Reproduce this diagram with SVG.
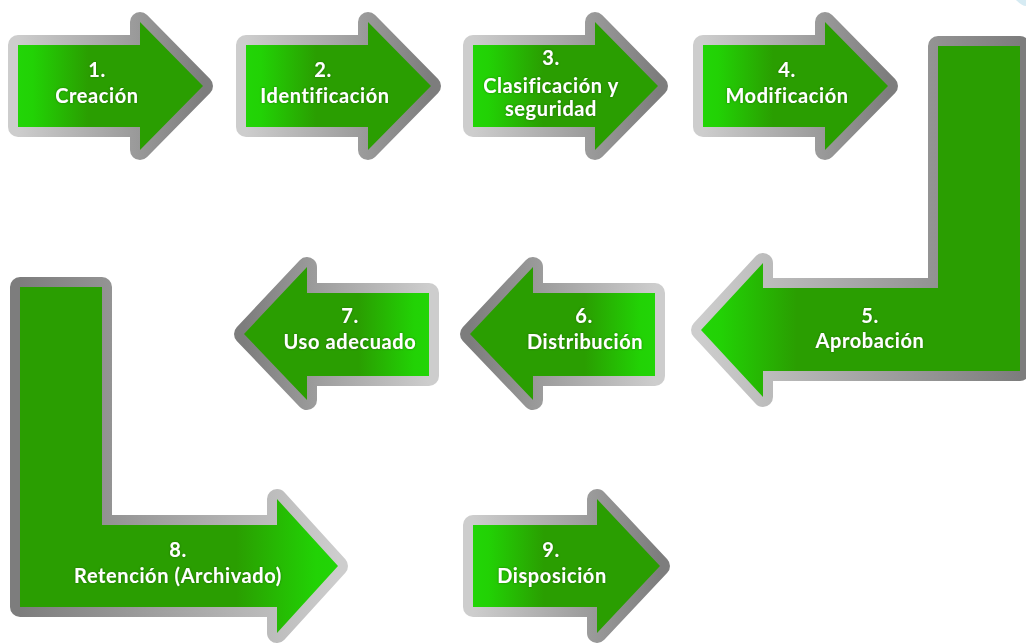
<svg xmlns="http://www.w3.org/2000/svg" width="1026" height="643" viewBox="0 0 1026 643">
  <defs>
    <linearGradient id="greenA" x1="0" y1="0" x2="1" y2="0">
      <stop offset="0" stop-color="#22d507"/>
      <stop offset="0.08" stop-color="#22d205"/>
      <stop offset="0.38" stop-color="#2a9e01"/>
      <stop offset="1" stop-color="#2a9e01"/>
    </linearGradient>
    <linearGradient id="greenB" x1="0" y1="0" x2="1" y2="0">
      <stop offset="0" stop-color="#2a9e01"/>
      <stop offset="0.62" stop-color="#2a9e01"/>
      <stop offset="0.92" stop-color="#22d205"/>
      <stop offset="1" stop-color="#22d507"/>
    </linearGradient>
    <linearGradient id="green5" x1="0" y1="0" x2="1" y2="0">
      <stop offset="0" stop-color="#22d507"/>
      <stop offset="0.06" stop-color="#22d205"/>
      <stop offset="0.3" stop-color="#2a9e01"/>
      <stop offset="1" stop-color="#2a9e01"/>
    </linearGradient>
    <linearGradient id="green8" x1="0" y1="0" x2="1" y2="0">
      <stop offset="0" stop-color="#2a9e01"/>
      <stop offset="0.68" stop-color="#2a9e01"/>
      <stop offset="0.93" stop-color="#22d205"/>
      <stop offset="1" stop-color="#22d507"/>
    </linearGradient>
    <linearGradient id="grayA" x1="0" y1="0" x2="1" y2="0">
      <stop offset="0" stop-color="#cdcdcd"/>
      <stop offset="1" stop-color="#7d7d7d"/>
    </linearGradient>
    <linearGradient id="grayB" x1="0" y1="0" x2="1" y2="0">
      <stop offset="0" stop-color="#7d7d7d"/>
      <stop offset="1" stop-color="#cdcdcd"/>
    </linearGradient>
    <filter id="tshadow" x="-10%" y="-30%" width="120%" height="160%">
      <feDropShadow dx="0" dy="0" stdDeviation="1" flood-color="#1a4a00" flood-opacity="0.6"/>
    </filter>
  </defs>
  <style>
    .arrow { stroke-width: 20; stroke-linejoin: round; paint-order: stroke fill; }
    .ra { fill: url(#greenA); stroke: url(#grayA); }
    .la { fill: url(#greenB); stroke: url(#grayB); }
    .lbl { font-family: Lato, "Open Sans", "Liberation Sans", sans-serif; font-weight: bold; font-size: 20px; letter-spacing: 0.6px; fill: #ffffff; text-anchor: middle; filter: url(#tshadow); }
  </style>
  <rect width="1026" height="643" fill="#ffffff"/>
  <path d="M1016,0 Q1022,6 1026,6 L1026,0 Z" fill="#d6ebf3"/>

  <g id="node1">
    <polygon class="arrow ra" points="18,45 140,45 140,22 203,86 140,150 140,127 18,127"/>
    <text class="lbl" x="97" y="77">1.</text>
    <text class="lbl" x="97" y="103">Creación</text>
  </g>
  <g id="node2">
    <polygon class="arrow ra" points="246,45 368,45 368,22 431,86 368,150 368,127 246,127"/>
    <text class="lbl" x="323" y="77">2.</text>
    <text class="lbl" x="325" y="103">Identificación</text>
  </g>
  <g id="node3">
    <polygon class="arrow ra" points="473,45 595,45 595,22 658,86 595,150 595,127 473,127"/>
    <text class="lbl" x="551" y="65">3.</text>
    <text class="lbl" x="551" y="93">Clasificación y</text>
    <text class="lbl" x="551" y="116">seguridad</text>
  </g>
  <g id="node4">
    <polygon class="arrow ra" points="703,45 825,45 825,22 888,86 825,150 825,127 703,127"/>
    <text class="lbl" x="787" y="77">4.</text>
    <text class="lbl" x="787" y="103">Modificación</text>
  </g>
  <g id="node5">
    <polygon class="arrow" fill="url(#green5)" stroke="url(#grayA)" points="1020,46 1020,371 763,371 763,397 701,330 763,263 763,288 938,288 938,46"/>
    <text class="lbl" x="870" y="323">5.</text>
    <text class="lbl" x="870" y="348">Aprobación</text>
  </g>
  <g id="node6">
    <polygon class="arrow la" points="655,293 655,376 533,376 533,400 470,334 533,267 533,293"/>
    <text class="lbl" x="584" y="323">6.</text>
    <text class="lbl" x="585" y="349">Distribución</text>
  </g>
  <g id="node7">
    <polygon class="arrow la" points="429,293 429,376 307,376 307,400 244,334 307,267 307,293"/>
    <text class="lbl" x="350" y="323">7.</text>
    <text class="lbl" x="350" y="349">Uso adecuado</text>
  </g>
  <g id="node8">
    <polygon class="arrow" fill="url(#green8)" stroke="url(#grayB)" points="20,287 102,287 102,525 277,525 277,499 338,566 277,633 277,607 20,607"/>
    <text class="lbl" x="178" y="557">8.</text>
    <text class="lbl" x="178" y="583">Retención (Archivado)</text>
  </g>
  <g id="node9">
    <polygon class="arrow ra" points="473,525 597,525 597,499 660,566 597,633 597,607 473,607"/>
    <text class="lbl" x="551" y="557">9.</text>
    <text class="lbl" x="552" y="583">Disposición</text>
  </g>
</svg>
